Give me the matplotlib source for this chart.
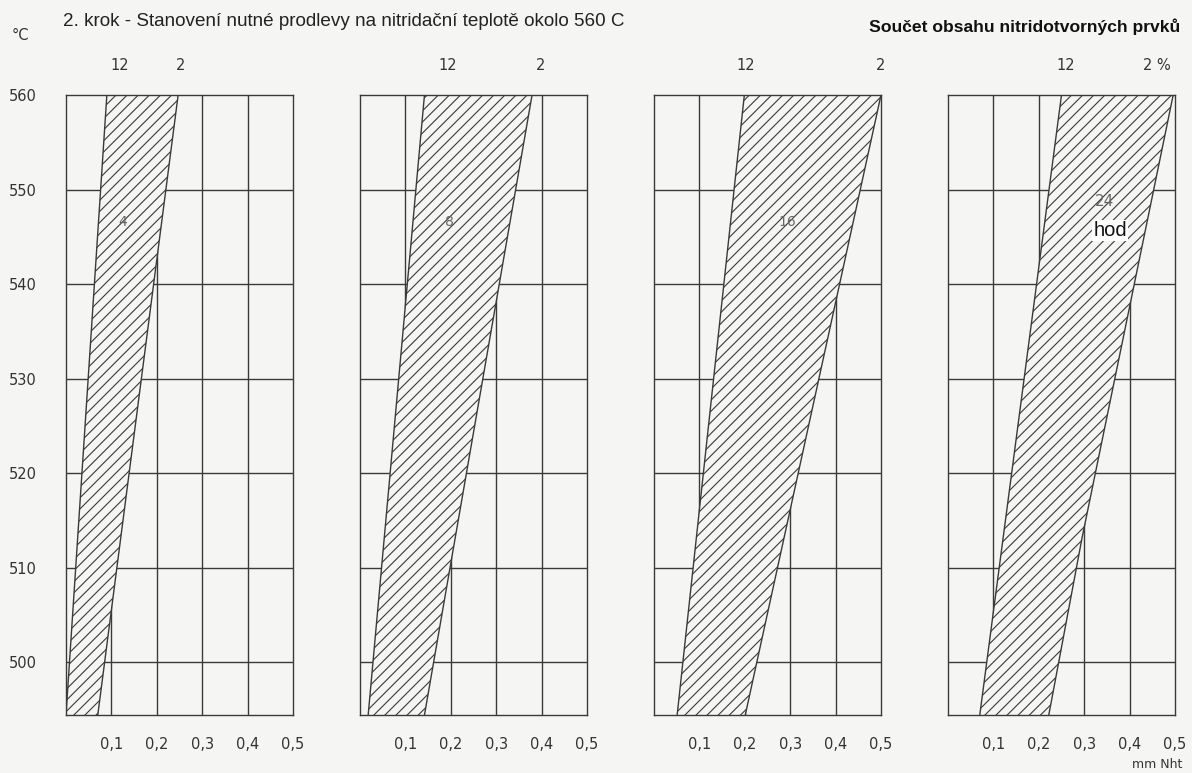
import matplotlib
matplotlib.use("Agg")
import matplotlib.pyplot as plt

# ---------------- data ----------------
hours = ["4", "8", "16", "24"]                 # band labels (hours of dwell)
t_lo, t_hi = 494.4, 560.0                       # temperature range shown (°C)
y_ticks = [500, 510, 520, 530, 540, 550, 560]
x_ticks = [0.1, 0.2, 0.3, 0.4, 0.5]
x_tick_labels = ["0,1", "0,2", "0,3", "0,4", "0,5"]

# boundary for 12 % nitride-forming elements (left line): (temperatures, depths)
line12_t = [[t_lo, t_hi], [t_lo, t_hi], [t_lo, t_hi], [t_lo, t_hi]]
line12_x = [[0.000, 0.090], [0.018, 0.142], [0.051, 0.199], [0.070, 0.250]]
# boundary for 2 % nitride-forming elements (right line)
line2_t = [[t_lo, t_hi], [t_lo, t_hi], [t_lo, t_hi], [t_lo, 513.2, t_hi]]
line2_x = [[0.070, 0.247], [0.142, 0.379], [0.201, 0.500], [0.222, 0.2955, 0.496]]

top_left_labels = ["12", "12", "12", "12"]
top_right_labels = ["2", "2", "2", "2 %"]

# ---------------- layout / style ----------------
BG = "#f5f5f3"
LC = "#3a3a3a"
W, H = 1192, 773
fig = plt.figure(figsize=(W / 100, H / 100), dpi=100, facecolor=BG)
plt.rcParams["hatch.linewidth"] = 0.8

NARROW = ["DejaVu Sans Condensed", "DejaVu Sans"]
panel_left_px = [66, 360, 654, 948]
ax_w_px, top_px, bot_px = 227, 95, 715

# label positions (axes-data x) for "12"/"2" above each panel and band numbers
lbl12_x = [0.119, 0.194, 0.203, 0.260]
lbl2_x = [0.253, 0.398, 0.499, 0.461]
band_lbl_pos = [(0.1256, 546.6), (0.197, 546.6), (0.293, 546.6), (0.3445, 548.7)]

tick_font = dict(family=NARROW, size=10.5, color="#333333")

for i in range(4):
    ax = fig.add_axes([panel_left_px[i] / W, (H - bot_px) / H,
                       ax_w_px / W, (bot_px - top_px) / H])
    ax.set_facecolor(BG)
    ax.set_xlim(0, 0.5)
    ax.set_ylim(t_lo, t_hi)

    # grid
    for xv in x_ticks[:-1]:
        ax.axvline(xv, color=LC, lw=1.0, zorder=1)
    for yv in y_ticks[:-1]:
        ax.axhline(yv, color=LC, lw=1.0, zorder=1)

    # hatched band
    xs = list(line12_x[i]) + list(line2_x[i])[::-1]
    ys = list(line12_t[i]) + list(line2_t[i])[::-1]
    ax.fill(xs, ys, facecolor=BG, edgecolor=LC, hatch="///", lw=0, zorder=2)
    ax.plot(line12_x[i], line12_t[i], color=LC, lw=1.0, zorder=3, clip_on=True)
    ax.plot(line2_x[i], line2_t[i], color=LC, lw=1.0, zorder=3, clip_on=True)

    for s in ax.spines.values():
        s.set_color(LC)
        s.set_linewidth(1.0)
        s.set_zorder(4)

    ax.set_xticks(x_ticks)
    ax.set_xticklabels(x_tick_labels, **tick_font)
    ax.tick_params(axis="x", length=0, pad=16)
    if i == 0:
        ax.set_yticks(y_ticks)
        ax.set_yticklabels([str(v) for v in y_ticks], **tick_font)
        ax.tick_params(axis="y", length=0, pad=21)
    else:
        ax.set_yticks([])

    # top labels
    ax.text(lbl12_x[i], t_hi + 3.1, top_left_labels[i], ha="center", va="center",
            **tick_font)
    ax.text(lbl2_x[i], t_hi + 3.1, top_right_labels[i], ha="center", va="center",
            **tick_font)

    # band label
    bx, by = band_lbl_pos[i]
    ax.text(bx, by, hours[i], ha="center", va="center", family=NARROW,
            size=11 if i == 3 else 10, color="#666666", zorder=5)
    if i == 3:
        ax.text(0.357, 545.7, "hod", ha="center", va="center",
                family="Liberation Sans", size=14.5, color="#111111", zorder=5,
                bbox=dict(boxstyle="square,pad=0.05", facecolor="white",
                          edgecolor="none"))

# titles and units
fig.text(63 / W, 1 - 21 / H, "2. krok - Stanovení nutné prodlevy na nitridační teplotě okolo 560 C",
         ha="left", va="center", family="Liberation Sans", size=13.6, color="#222222")
fig.text(1180 / W, 1 - 27 / H, "Součet obsahu nitridotvorných prvků",
         ha="right", va="center", family="Liberation Sans",
         size=12.6, color="#111111", weight="bold")
fig.text(12 / W, 1 - 35 / H, "°C", ha="left", va="center", **tick_font)
fig.text(1182 / W, 1 - 764 / H, "mm Nht", ha="right", va="center",
         family=NARROW, size=9, color="#333333")

fig.savefig("out.png", dpi=100, facecolor=BG)
